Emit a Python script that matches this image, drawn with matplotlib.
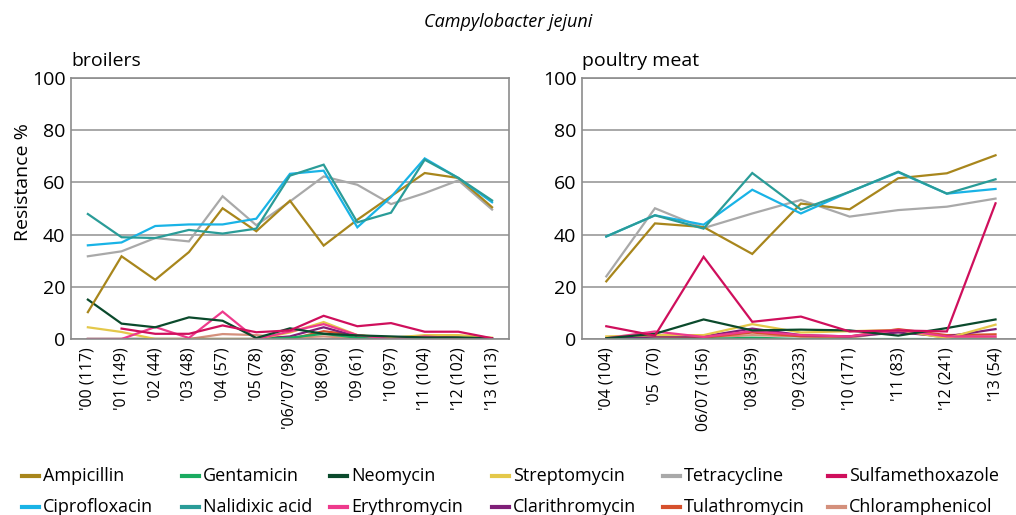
import matplotlib.pyplot as plt
import numpy as np
from matplotlib.lines import Line2D

plt.rcParams["font.family"] = ["Open Sans", "DejaVu Sans"]

nan = np.nan

# broilers
years_b = ["'00 (117)", "'01 (149)", "'02 (44)", "'03 (48)", "'04 (57)", "'05 (78)",
           "'06/'07 (98)", "'08 (90)", "'09 (61)", "'10 (97)", "'11 (104)",
           "'12 (102)", "'13 (113)"]
amp_b = [10.3, 31.7, 22.7, 33.3, 50.1, 41.3, 53.0, 35.8, 45.7, 54.7, 63.6, 61.7, 50.5]
gen_b = [0, 0, 0, 0, 0, 0, 0.5, 2.0, 0.5, 0, 0, 0.3, 0]
neo_b = [15.1, 5.9, 4.5, 8.3, 7.0, 0.4, 4.1, 2.0, 1.4, 1.0, 0.6, 0.6, 0.3]
strep_b = [4.5, 2.7, 0, 0, 0, 0, 2.5, 6.5, 1.5, 0.5, 1.5, 1.5, 0.5]
tet_b = [31.7, 33.6, 38.7, 37.4, 54.7, 43.6, 52.7, 62.3, 59.1, 51.7, 55.9, 60.8, 49.6]
sulfa_b = [nan, 4.0, 2.0, 2.0, 5.2, 2.6, 3.3, 8.9, 4.9, 6.1, 2.8, 2.8, 0.3]
cip_b = [35.9, 37.0, 43.3, 43.9, 43.9, 46.1, 63.3, 64.5, 42.8, 54.4, 69.2, 61.7, 52.4]
nal_b = [47.9, 39.0, 38.7, 41.8, 40.4, 42.3, 62.6, 66.8, 44.7, 48.4, 68.7, 61.7, 53.1]
ery_b = [0, 0, 4.6, 0.4, 10.5, 0, 2.9, 5.7, 1.5, 0, 1.0, 0.3, 0]
clar_b = [0, 0, 0, 0, 0, 0, 1.0, 4.5, 1.0, 0, 1.0, 0.5, 0]
tula_b = [0, 0, 0, 0, 0, 0, 0, 3.0, 1.5, 0, 0.5, 0.5, 0]
chlor_b = [0, 0, 0, 0, 1.9, 1.5, 0.5, 1.0, 0.3, 0, 0, 0, 0]

# poultry meat
years_m = ["'04 (104)", "'05  (70)", "06/07 (156)", "'08 (359)", "'09 (233)",
           "'10 (171)", "'11 (83)", "'12 (241)", "'13 (54)"]
amp_m = [22.1, 44.3, 42.9, 32.6, 51.9, 49.7, 61.6, 63.5, 70.4]
gen_m = [0, 0, 0, 0.5, 0, 0, 0, 0, 0]
neo_m = [0.3, 2.0, 7.5, 3.3, 3.6, 3.3, 1.3, 4.2, 7.5]
strep_m = [1.0, 1.5, 1.5, 5.7, 2.5, 3.0, 3.5, 0.3, 5.5]
tet_m = [24.0, 50.1, 42.5, 48.1, 53.3, 46.9, 49.4, 50.7, 53.8]
sulfa_m = [4.9, 1.3, 31.5, 6.6, 8.6, 2.9, 3.3, 2.9, 52.0]
cip_m = [39.3, 47.4, 43.8, 57.2, 48.1, 56.4, 63.9, 55.7, 57.5]
nal_m = [39.3, 47.4, 42.3, 63.6, 49.6, 56.4, 64.1, 55.7, 61.2]
ery_m = [0.3, 2.9, 0.8, 3.0, 1.5, 1.0, 3.5, 1.0, 1.0]
clar_m = [0, 1.0, 1.0, 4.0, 1.5, 1.0, 2.5, 1.0, 3.8]
tula_m = [0, 0, 0.5, 2.5, 1.0, 1.0, 3.8, 1.5, 1.8]
chlor_m = [0.3, 0.5, 0.5, 1.5, 1.0, 0.5, 3.0, 0.5, 0.5]

names = ["Ampicillin", "Gentamicin", "Neomycin", "Streptomycin", "Tetracycline",
         "Sulfamethoxazole", "Ciprofloxacin", "Nalidixic acid", "Erythromycin",
         "Clarithromycin", "Tulathromycin", "Chloramphenicol"]
colors = ["#a8861c", "#1aab60", "#0b4a2c", "#e4c84a", "#a9a9a9", "#cf0f5c",
          "#19b3e6", "#2a9c98", "#ee3a8c", "#7f1f78", "#d6502c", "#d4907c"]
broilers = [amp_b, gen_b, neo_b, strep_b, tet_b, sulfa_b,
            cip_b, nal_b, ery_b, clar_b, tula_b, chlor_b]
meat = [amp_m, gen_m, neo_m, strep_m, tet_m, sulfa_m,
        cip_m, nal_m, ery_m, clar_m, tula_m, chlor_m]

fig = plt.figure(figsize=(10.16, 5.15), dpi=100)
ax1 = fig.add_axes([0.0699, 0.3417, 0.431, 0.5068])
ax2 = fig.add_axes([0.5728, 0.3417, 0.431, 0.5068])

# draw the low-value series first so the main ones sit on top
order = [11, 10, 9, 1, 3, 8, 2, 5, 4, 0, 6, 7]

for ax, data, labels, title in [(ax1, broilers, years_b, "broilers"),
                                (ax2, meat, years_m, "poultry meat")]:
    x = np.arange(len(labels))
    for i in order:
        ax.plot(x, data[i], color=colors[i], lw=1.6, solid_joinstyle="miter")
    ax.set_xlim(-0.5, len(labels) - 0.5)
    ax.set_ylim(0, 100)
    ax.set_yticks(range(0, 101, 20))
    ax.set_xticks(x)
    ax.set_xticklabels(labels, rotation=90, fontsize=11.5)
    ax.tick_params(axis="both", length=0, pad=6)
    ax.tick_params(axis="y", labelsize=14, pad=4)
    ax.grid(axis="y", color="#9a9a9a", lw=1.2)
    ax.set_axisbelow(True)
    for s in ax.spines.values():
        s.set_color("#8c8c8c")
        s.set_linewidth(1.2)
    ax.set_title(title, loc="left", fontsize=14, pad=9, x=0.0)

ax2.spines["right"].set_visible(False)
ax1.set_ylabel("Resistance %", fontsize=14)
ax1.yaxis.set_label_coords(-0.09, 0.6)

fig.text(0.5, 0.958, "Campylobacter jejuni", ha="center", va="center",
         fontsize=13, style="italic")

# legend laid out in two rows of six
col_x = [22, 182, 330, 492, 663, 828]
row_y = [476, 507]
for k, name in enumerate(names):
    r, c = divmod(k, 6)
    x0 = col_x[c] / 1016
    y0 = 1 - row_y[r] / 515
    fig.add_artist(Line2D([x0, x0 + 17 / 1016], [y0, y0], color=colors[k],
                          lw=3, transform=fig.transFigure))
    fig.text(x0 + 21 / 1016, y0, name, ha="left", va="center", fontsize=13)

fig.savefig("out.png", dpi=100)
